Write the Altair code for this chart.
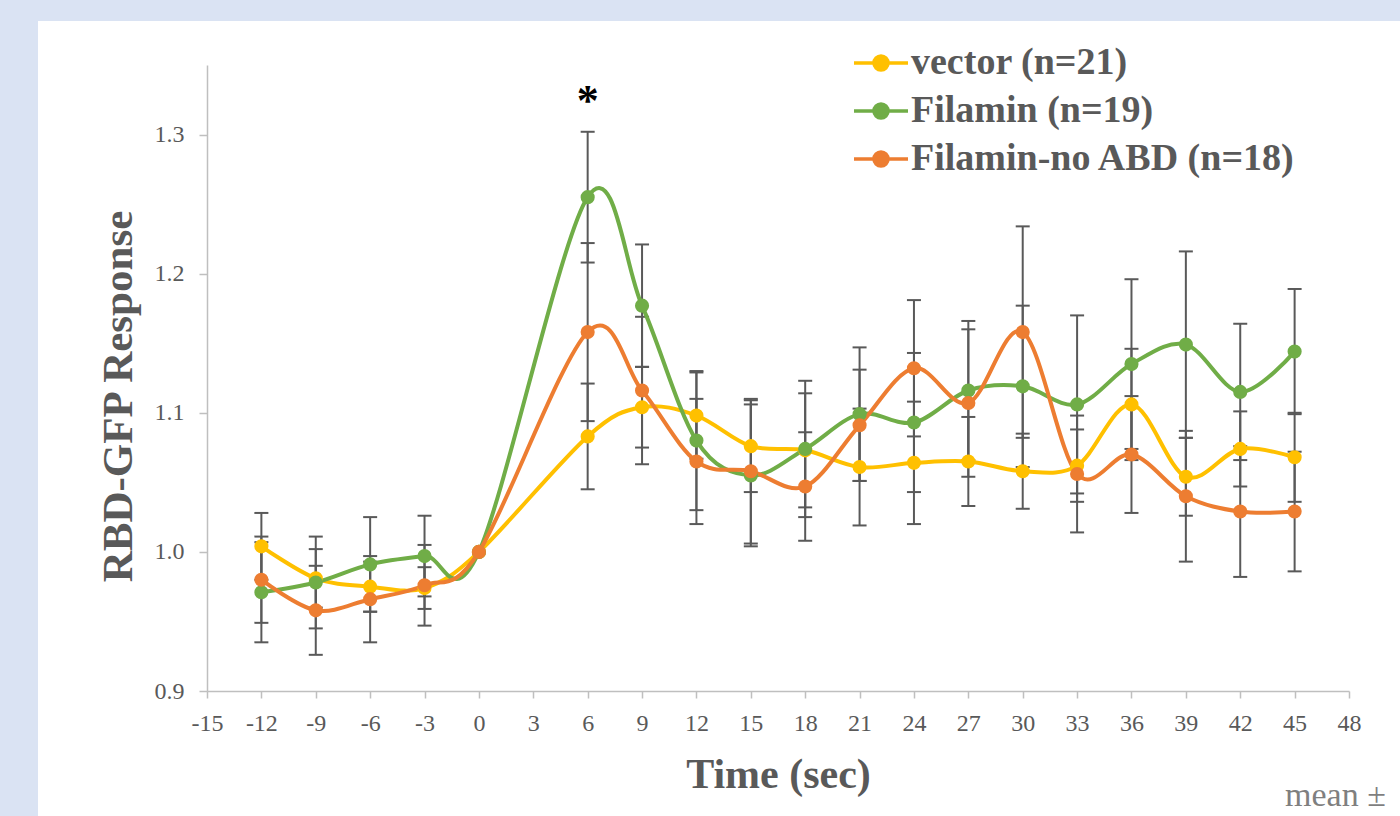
import altair as alt
import pandas as pd

# ---------------- data ----------------
times = [-12, -9, -6, -3, 0, 6, 9, 12, 15, 18, 21, 24, 27, 30, 33, 36, 39, 42, 45]
series_names = ["vector (n=21)", "Filamin (n=19)", "Filamin-no ABD (n=18)"]
series_colors = ["#FFC000", "#70AD47", "#ED7D31"]

vector_mean = [1.004, 0.981, 0.975, 0.974, 1.000, 1.083, 1.104, 1.098, 1.076, 1.073,
               1.061, 1.064, 1.065, 1.058, 1.062, 1.106, 1.054, 1.074, 1.068]
vector_err = [0.024, 0.021, 0.018, 0.015, 0.0, 0.038, 0.029, 0.031, 0.033, 0.041,
              0.042, 0.044, 0.032, 0.027, 0.026, 0.040, 0.028, 0.027, 0.032]

filamin_mean = [0.971, 0.978, 0.991, 0.997, 1.000, 1.255, 1.177, 1.080, 1.055, 1.074,
                1.099, 1.093, 1.116, 1.119, 1.106, 1.135, 1.149, 1.115, 1.144]
filamin_err = [0.036, 0.033, 0.034, 0.029, 0.0, 0.047, 0.044, 0.050, 0.051, 0.049,
               0.048, 0.050, 0.050, 0.058, 0.064, 0.061, 0.067, 0.049, 0.045]

noabd_mean = [0.980, 0.958, 0.966, 0.976, 1.000, 1.158, 1.116, 1.065, 1.058, 1.047,
              1.091, 1.132, 1.107, 1.158, 1.056, 1.070, 1.040, 1.029, 1.029]
noabd_err = [0.031, 0.032, 0.031, 0.029, 0.0, 0.064, 0.053, 0.045, 0.052, 0.039,
             0.040, 0.049, 0.053, 0.076, 0.042, 0.042, 0.047, 0.047, 0.043]

x_ticks = list(range(-15, 49, 3))
y_ticks = [0.9, 1.0, 1.1, 1.2, 1.3]

star_time = [6]
star_level = [1.314]
star_text = ["*"]

x_title = "Time (sec)"
y_title = "RBD-GFP Response"
note_text = "mean ±"

# ---------------- tables ----------------
rows = []
for name, means, errs in zip(series_names,
                             [vector_mean, filamin_mean, noabd_mean],
                             [vector_err, filamin_err, noabd_err]):
    for t, m, e in zip(times, means, errs):
        rows.append({"t": t, "series": name, "mean": m, "err": e,
                     "lo": m - e, "hi": m + e})
df = pd.DataFrame(rows)
err_df = df[df["err"] > 0]

FONT = "Liberation Serif"
GRAY = "#595959"
AX = "#BFBFBF"

xs = alt.Scale(domain=[-15, 48], nice=False, zero=False)
ys = alt.Scale(domain=[0.9, 1.35], nice=False, zero=False)

x_axis = alt.Axis(values=x_ticks, title=x_title, labelExpr="'' + datum.value",
                  tickSize=7, labelPadding=13, labelBaseline="top", zindex=2,
                  labelFlush=False, labelOverlap=False,
                  domainColor=AX, tickColor=AX, domainWidth=1.5, tickWidth=1.5,
                  labelFont=FONT, labelFontSize=24, labelColor=GRAY,
                  titleFont=FONT, titleFontWeight="bold", titleColor=GRAY,
                  titleFontSize=42, titleY=96, titleBaseline="alphabetic", grid=False)
y_axis = alt.Axis(values=y_ticks, title=y_title, format=".1f",
                  tickSize=8, labelPadding=15, zindex=2,
                  labelFlush=False, labelOverlap=False,
                  domainColor=AX, tickColor=AX, domainWidth=1.5, tickWidth=1.5,
                  labelFont=FONT, labelFontSize=24, labelColor=GRAY,
                  titleFont=FONT, titleFontWeight="bold", titleColor=GRAY,
                  titleFontSize=43, titleAngle=270, titleX=-76, titleY=331,
                  titleAlign="center", titleBaseline="alphabetic", grid=False)

X = alt.X("t:Q", scale=xs, axis=x_axis)
Y = alt.Y("mean:Q", scale=ys, axis=y_axis)

legend_symbol = "M-2,0H2M0.52,0A0.52,0.52,0,1,1,-0.52,0A0.52,0.52,0,1,1,0.52,0Z"
leg = alt.Legend(title=None, orient="none", legendX=655, legendY=-21,
                 symbolType=legend_symbol, symbolSize=729, symbolStrokeWidth=3.5,
                 symbolOpacity=1, labelFont=FONT, labelFontSize=38,
                 labelFontWeight="bold", labelColor=GRAY, labelOffset=11,
                 rowPadding=10, padding=0, labelLimit=600)

color_scale = alt.Scale(domain=series_names, range=series_colors)

bg = alt.Chart(pd.DataFrame({"a": [0]})).mark_rect(color="white").encode(
    x=alt.value(-169), x2=alt.value(1193), y=alt.value(-44), y2=alt.value(751))

rules = alt.Chart(err_df).mark_rule(color=GRAY, strokeWidth=2).encode(
    x=X, y=alt.Y("lo:Q", scale=ys, axis=y_axis), y2="hi:Q")
cap_lo = alt.Chart(err_df).mark_tick(orient="horizontal", size=14, thickness=2,
                                     color=GRAY, opacity=1).encode(
    x=X, y=alt.Y("lo:Q", scale=ys, axis=y_axis))
cap_hi = alt.Chart(err_df).mark_tick(orient="horizontal", size=14, thickness=2,
                                     color=GRAY, opacity=1).encode(
    x=X, y=alt.Y("hi:Q", scale=ys, axis=y_axis))

lines = alt.Chart(df).mark_line(interpolate="cardinal", strokeWidth=4).encode(
    x=X, y=Y, stroke=alt.Stroke("series:N", scale=color_scale, legend=leg))
points = alt.Chart(df).mark_point(filled=True, size=200, opacity=1).encode(
    x=X, y=Y, fill=alt.Fill("series:N", scale=color_scale, legend=leg))

star = alt.Chart(pd.DataFrame({"t": star_time, "y": star_level, "s": star_text})).mark_text(
    font=FONT, fontSize=44, fontWeight="bold", color="black", baseline="alphabetic"
).encode(x=alt.X("t:Q", scale=xs, axis=x_axis), y=alt.Y("y:Q", scale=ys, axis=y_axis),
         text="s:N")

note = alt.Chart(pd.DataFrame({"s": [note_text]})).mark_text(
    font=FONT, fontSize=34, color="#7F7F7F", align="left", baseline="alphabetic"
).encode(x=alt.value(1078), y=alt.value(741), text="s:N")

chart = alt.layer(bg, rules, cap_lo, cap_hi, lines, points, star, note).properties(
    width=1142, height=626,
    padding={"left": 207, "top": 65, "right": 51, "bottom": 125},
    autosize=alt.AutoSizeParams(type="none"),
    background="#DAE3F3",
).configure_view(stroke=None)

chart.save("out.html", embed_options={"renderer": "svg", "actions": False})
